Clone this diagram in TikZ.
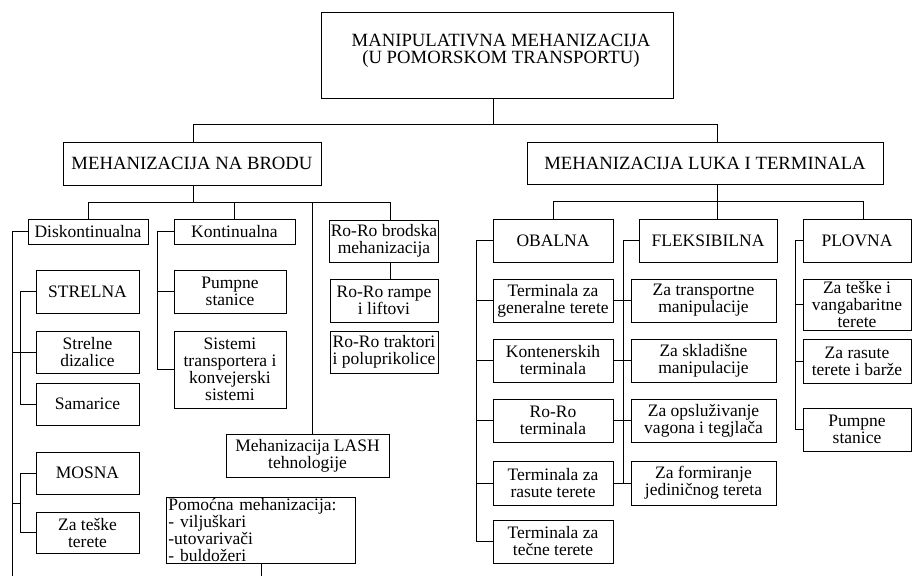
\documentclass[tikz,border=0pt]{standalone}
\usepackage{fontspec}
\setmainfont{Liberation Serif}
\begin{document}
\begin{tikzpicture}[x=1pt,y=-1pt,
  box/.style={draw, line width=0.8pt, inner sep=1pt, align=center, font=\fontsize{17.5}{17}\selectfont},
  bigbox/.style={draw, line width=0.8pt, inner sep=1pt, align=center, font=\fontsize{18.7}{17}\selectfont},
  bigtext/.style={inner sep=0pt, align=center, font=\fontsize{18.7}{17}\selectfont},
  conn/.style={line width=0.8pt}]
\useasboundingbox (0,0) rectangle (912,576);

% level 0 and 1
\node[bigbox, minimum width=352pt, minimum height=86pt] (top) at (497,55) {};
\node[bigtext] (toptext) at (501,51) {MANIPULATIVNA MEHANIZACIJA\\(U POMORSKOM TRANSPORTU)};
\node[bigbox, minimum width=258pt, minimum height=43pt] (brodu) at (192,163.5) {MEHANIZACIJA NA BRODU};
\node[bigbox, minimum width=356pt, minimum height=42pt] (luka) at (705,163) {MEHANIZACIJA LUKA I TERMINALA};

% brodu children
\node[box, minimum width=120pt, minimum height=25pt] (disk) at (88,231.5) {Diskontinualna};
\node[box, minimum width=121pt, minimum height=25pt] (kont) at (234.5,231.5) {Kontinualna};
\node[box, minimum width=108pt, minimum height=42pt] (rorob) at (384,241) {Ro-Ro brodska\\mehanizacija};
\node[box, minimum width=108pt, minimum height=43pt] (rampe) at (384,300.5) {Ro-Ro rampe\\i liftovi};
\node[box, minimum width=108pt, minimum height=42pt] (traktori) at (384,352) {Ro-Ro traktori\\i poluprikolice};
\node[box, minimum width=163pt, minimum height=43pt] (lash) at (307.5,455.5) {Mehanizacija LASH\\tehnologije};
\node[box, minimum width=189pt, minimum height=66pt, text width=185pt, align=left, anchor=north west] (pom) at (166,497) {Pomoćna mehanizacija:\\- viljuškari\\-utovarivači\\- buldožeri};

\node[box, minimum width=103pt, minimum height=43pt] (strelna) at (87.5,291.5) {STRELNA};
\node[box, minimum width=103pt, minimum height=42pt] (dizalice) at (87.5,352) {Strelne\\dizalice};
\node[box, minimum width=103pt, minimum height=42pt] (samarice) at (87.5,404) {Samarice};
\node[box, minimum width=103pt, minimum height=42pt] (mosna) at (87.5,473) {MOSNA};
\node[box, minimum width=103pt, minimum height=41pt] (zateske) at (87.5,532.5) {Za teške\\terete};

\node[box, minimum width=112pt, minimum height=43pt] (pumpne) at (230,291.5) {Pumpne\\stanice};
\node[box, minimum width=112pt, minimum height=77pt] (sistemi) at (230,369.5) {Sistemi\\transportera i\\konvejerski\\sistemi};

% luka children
\node[box, minimum width=120pt, minimum height=43pt] (obalna) at (553,240.5) {OBALNA};
\node[box, minimum width=138pt, minimum height=43pt] (fleks) at (708,240.5) {FLEKSIBILNA};
\node[box, minimum width=108pt, minimum height=43pt] (plovna) at (857,240.5) {PLOVNA};

\node[box, minimum width=120pt, minimum height=43pt] (o1) at (553,300.5) {Terminala za\\generalne terete};
\node[box, minimum width=120pt, minimum height=43pt] (o2) at (553,360.5) {Kontenerskih\\terminala};
\node[box, minimum width=120pt, minimum height=43pt] (o3) at (553,420.5) {Ro-Ro\\terminala};
\node[box, minimum width=120pt, minimum height=44pt] (o4) at (553,483) {Terminala za\\rasute terete};
\node[box, minimum width=120pt, minimum height=43pt] (o5) at (553,541.5) {Terminala za\\tečne terete};

\node[box, minimum width=145pt, minimum height=43pt] (f1) at (703.5,300.5) {Za transportne\\manipulacije};
\node[box, minimum width=145pt, minimum height=43pt] (f2) at (703.5,360.5) {Za skladišne\\manipulacije};
\node[box, minimum width=145pt, minimum height=43pt] (f3) at (703.5,420.5) {Za opsluživanje\\vagona i tegjlača};
\node[box, minimum width=145pt, minimum height=44pt] (f4) at (703.5,483) {Za formiranje\\jediničnog tereta};

\node[box, minimum width=108pt, minimum height=51pt] (p1) at (857,304.5) {Za teške i\\vangabaritne\\terete};
\node[box, minimum width=108pt, minimum height=44pt] (p2) at (857,361) {Za rasute\\terete i barže};
\node[box, minimum width=108pt, minimum height=43pt] (p3) at (857,429.5) {Pumpne\\stanice};

% junction coordinates
\coordinate (j0) at (493,124);
\coordinate (b0L) at (193,124);
\coordinate (b0R) at (717,124);
\coordinate (b1L) at (88,202);
\coordinate (b1R) at (390,202);
\coordinate (xlash) at (312,202);
\coordinate (r1L) at (553,201);
\coordinate (r1R) at (863,201);
\coordinate (leftend) at (12,576);
\coordinate (xi) at (20,0);
\coordinate (mj) at (20,503);
\coordinate (xk) at (157,0);
\coordinate (pomend) at (261,576);
\coordinate (xob) at (476,0);
\coordinate (xf) at (623,0);
\coordinate (xp) at (795,0);

% level connectors
\draw[conn] (top.south -| j0) -- (j0);
\draw[conn] (brodu.north -| b0L) |- (b0R) -- (luka.north -| b0R);

% brodu tree
\draw[conn] (brodu.south -| b0L) -- (b0L |- b1L);
\draw[conn] (disk.north) |- (b1R) -- (rorob.north -| b1R);
\draw[conn] (kont.north) -- (kont.north |- b1L);
\draw[conn] (lash.north -| xlash) -- (xlash);
\draw[conn] (rorob.south -| b1R) -- (rampe.north -| b1R);
\draw[conn] (pom.south -| pomend) -- (pomend);

% diskontinualna
\draw[conn] (disk.west) -| (leftend);
\draw[conn] (dizalice.west) -- (dizalice.west -| leftend);
\draw[conn] (strelna.west) -| (xi |- samarice.west) -- (samarice.west);
\draw[conn] (mosna.west) -| (xi |- zateske.west) -- (zateske.west);
\draw[conn] (mj) -- (mj -| leftend);

% kontinualna
\draw[conn] (kont.west) -| (xk |- sistemi.west) -- (sistemi.west);
\draw[conn] (pumpne.west) -- (pumpne.west -| xk);

% luka tree
\draw[conn] (luka.south -| b0R) -- (fleks.north -| b0R);
\draw[conn] (obalna.north) |- (r1R) -- (plovna.north -| r1R);

\draw[conn] (obalna.west) -| (xob |- o5.west) -- (o5.west);
\foreach \n in {o1,o2,o3,o4} { \draw[conn] (\n.west) -- (\n.west -| xob); }

\draw[conn] (fleks.west) -| (xf |- f4.west);
\draw[conn] (o1.east) -- (f1.west);
\draw[conn] (o2.east) -- (f2.west);
\draw[conn] (o3.east) -- (f3.west);
\draw[conn] (o4.east) -- (f4.west);

\draw[conn] (plovna.west) -| (xp |- p3.west) -- (p3.west);
\draw[conn] (p1.west) -- (p1.west -| xp);
\draw[conn] (p2.west) -- (p2.west -| xp);
\end{tikzpicture}
\end{document}
